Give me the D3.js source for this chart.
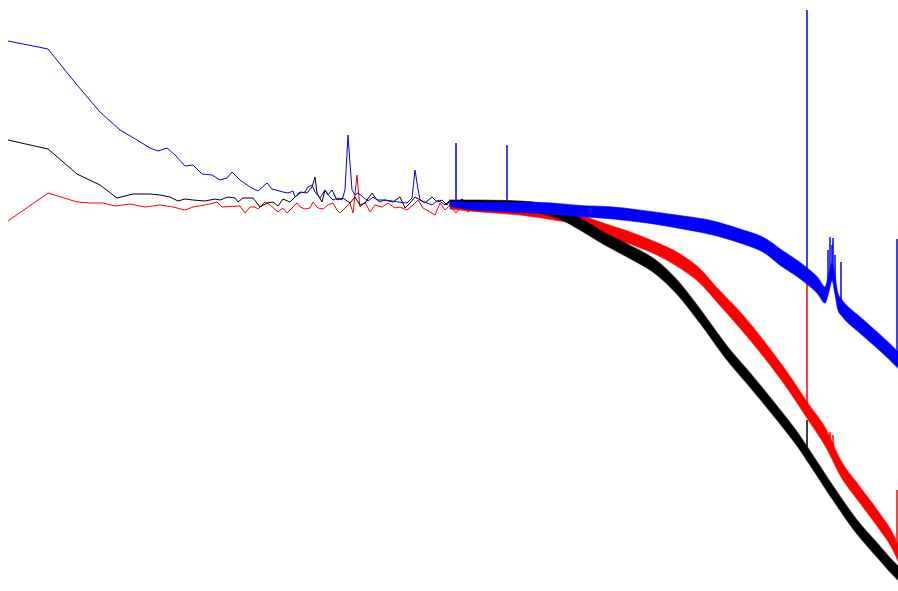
<!DOCTYPE html>
<html>
<head>
<meta charset="utf-8">
<script src="https://cdn.jsdelivr.net/npm/d3@7/dist/d3.min.js"></script>
<style>
  html, body { margin: 0; padding: 0; background: #fff; }
  svg { display: block; }
</style>
</head>
<body>
<svg id="chart"></svg>
<script>
// x = log10 frequency, y = level in dB

// low-frequency part, drawn as plain lines [logf, dB]
var blueLow = [[0,-8.2],[0.2,-9.8],[0.345,-17],[0.46,-22.4],[0.56,-26],[0.645,-28],[0.71,-29.6],[0.75,-30.2],[0.795,-29.6],[0.835,-31],[0.885,-33.2],[0.925,-33],[0.97,-34.8],[1.02,-35],[1.06,-36],[1.095,-35.6],[1.12,-34.4],[1.16,-36],[1.21,-37.4],[1.25,-38.2],[1.295,-36.6],[1.32,-37.8],[1.375,-38.4],[1.40,-38.6],[1.425,-38.2],[1.435,-39.4],[1.46,-38.6],[1.485,-38.4],[1.50,-37.4],[1.52,-37],[1.535,-38.4],[1.56,-39.6],[1.585,-38],[1.61,-39.4],[1.625,-40],[1.65,-39.6],[1.67,-40],[1.685,-38],[1.70,-27],[1.705,-30],[1.72,-38],[1.735,-39],[1.75,-38.6],[1.775,-39.4],[1.80,-40.2],[1.825,-39.4],[1.86,-40.4],[1.885,-40],[1.92,-40.2],[1.95,-40.4],[1.995,-40.6],[2.02,-39.6],[2.035,-34],[2.045,-36.6],[2.06,-40],[2.095,-40.6],[2.12,-41],[2.15,-40],[2.185,-41],[2.21,-40],[2.24,-41.4],[2.27,-40.2],[2.30,-41.6],[2.33,-40.4]];

var blackLow = [[0,-28],[0.2,-29.8],[0.345,-34.8],[0.46,-37],[0.545,-39.6],[0.625,-38.8],[0.71,-38.8],[0.76,-39],[0.81,-39.4],[0.85,-40.2],[0.885,-39.8],[0.925,-40],[0.985,-40.2],[1.035,-39.8],[1.06,-40],[1.10,-39.4],[1.135,-39.6],[1.15,-40.4],[1.175,-39.6],[1.225,-39.6],[1.26,-41.4],[1.295,-40.6],[1.325,-40.4],[1.35,-41.2],[1.375,-39.8],[1.41,-40.4],[1.435,-39.4],[1.46,-38.4],[1.495,-38.6],[1.52,-37.4],[1.535,-35.4],[1.545,-38.6],[1.57,-40.4],[1.585,-38],[1.60,-39],[1.62,-38],[1.645,-40],[1.675,-39.6],[1.71,-40.6],[1.735,-39.4],[1.76,-41],[1.785,-40.6],[1.82,-38.6],[1.845,-40],[1.885,-40],[1.925,-40.4],[1.96,-39.4],[1.985,-41.6],[2.01,-40.6],[2.035,-39.4],[2.06,-40],[2.085,-40.6],[2.12,-39.4],[2.145,-40.4],[2.17,-40],[2.195,-41],[2.21,-40],[2.24,-40.8],[2.27,-39.8],[2.30,-41],[2.33,-40.2]];

var redLow = [[0,-44.2],[0.2,-38.6],[0.345,-40.4],[0.41,-40.6],[0.475,-40.6],[0.535,-41.2],[0.61,-40.8],[0.685,-41.4],[0.76,-41],[0.825,-41.4],[0.885,-42],[0.925,-41.4],[1.01,-40.8],[1.045,-40.4],[1.07,-41.4],[1.16,-41.2],[1.185,-42.6],[1.21,-41.4],[1.235,-41.4],[1.25,-41.8],[1.285,-40.4],[1.31,-41],[1.35,-42.4],[1.375,-41.6],[1.395,-42.6],[1.425,-41.4],[1.445,-40.6],[1.46,-41.4],[1.485,-41.8],[1.51,-41.6],[1.525,-40.4],[1.55,-41.6],[1.575,-41.8],[1.60,-41],[1.625,-40.6],[1.645,-42],[1.66,-42.6],[1.685,-41.6],[1.71,-40.6],[1.725,-42.6],[1.745,-35],[1.75,-37.4],[1.76,-41.4],[1.785,-40.4],[1.81,-42.4],[1.835,-41],[1.87,-41.4],[1.90,-40.6],[1.935,-41.6],[1.96,-41.4],[1.995,-42],[2.025,-41],[2.05,-40],[2.075,-41.6],[2.11,-42.4],[2.135,-43],[2.16,-40.6],[2.185,-42],[2.21,-41],[2.24,-42.6],[2.27,-41.2],[2.30,-42.4],[2.33,-41.4]];

// high-frequency part, noisy band [logf, mean dB, half spread dB]
var blueBand = [[2.21,-40.8,0.5],[2.31,-41.2,0.7],[2.46,-41.4,0.9],[2.66,-41.6,1.1],[2.86,-42.2,1.1],[3.025,-42.6,1.2],[3.195,-43.4,1.2],[3.36,-44.4,1.3],[3.525,-45.6,1.4],[3.66,-47.2,1.4],[3.795,-49.4,1.5],[3.86,-51.4,1.6],[3.935,-53.4,1.6],[3.995,-55.2,1.6],[4.05,-57.2,1.6],[4.085,-59,1.6],[4.105,-56.4,1.8],[4.12,-54.4,1.8],[4.135,-57,1.8],[4.15,-60.4,1.6],[4.17,-61.6,1.6],[4.26,-65,1.6],[4.345,-68,1.6],[4.41,-70.4,1.6],[4.45,-72,1.6]];

var blackBand = [[2.21,-40.4,0.4],[2.36,-40.6,0.6],[2.56,-41,0.8],[2.66,-41.6,1],[2.76,-42.8,1],[2.86,-44.8,1.2],[2.985,-47.8,1.2],[3.11,-50.4,1.3],[3.245,-53.6,1.4],[3.345,-57.4,1.4],[3.46,-63.2,1.4],[3.595,-70.6,1.4],[3.71,-76,1.4],[3.845,-82.6,1.4],[3.96,-88.6,1.4],[4.01,-91.6,1.4],[4.125,-98.6,1.4],[4.245,-105.4,1.4],[4.345,-110,1.4],[4.425,-113.6,1.4],[4.45,-114.6,1.4]];

var redBand = [[2.21,-41.4,0.4],[2.36,-41.8,0.6],[2.56,-42.2,0.8],[2.76,-43.2,1],[2.86,-44,1],[2.96,-45.6,1.2],[3.11,-47.6,1.2],[3.225,-49.4,1.2],[3.36,-52.2,1.4],[3.46,-55.2,1.4],[3.545,-59,1.4],[3.66,-64,1.6],[3.795,-70.6,1.6],[3.895,-76,1.6],[3.995,-82,1.6],[4.095,-88,1.8],[4.16,-93.4,1.6],[4.26,-99,1.6],[4.36,-104.4,1.6],[4.425,-108.4,1.6],[4.45,-110.6,1.6]];

// tones [logf, peak dB, floor dB]
var blueSpikes = [[2.24,-28.6,-41.2],[2.495,-29,-41.4],[3.995,-2,-55.2],[4.10,-50,-57.6],[4.11,-47.4,-56],[4.12,-49,-54.4],[4.125,-47.6,-55],[4.135,-51,-57],[4.165,-52.4,-61],[4.445,-47.8,-71.6]];
var blackSpikes = [[3.995,-84,-89.4]];
var redSpikes = [[3.995,-54,-82],[4.11,-86.4,-89],[4.125,-87,-90],[4.445,-98,-110]];

var svgWidth = 898, svgHeight = 591;

var svg = d3.select('#chart')
	.attr("width", svgWidth)
	.attr("height", svgHeight);

var x = d3.scaleLinear().domain([0, 4.445]).range([8, 897]);
var y = d3.scaleLinear().domain([0, -118.2]).range([0, 591]);

var line = d3.line()
	.x(function(d) { return x(d[0]); })
	.y(function(d) { return y(d[1]); });

var area = d3.area()
	.curve(d3.curveMonotoneX)
	.x(function(d) { return x(d[0]); })
	.y0(function(d) { return y(d[1] - d[2]); })
	.y1(function(d) { return y(d[1] + d[2]); });

var series = [
	{color: "#ff0000", low: redLow, band: redBand, spikes: redSpikes},
	{color: "#000000", low: blackLow, band: blackBand, spikes: blackSpikes},
	{color: "#0000ff", low: blueLow, band: blueBand, spikes: blueSpikes}
];

series.forEach(function(s) {
	var g = svg.append("g");

	g.append("path")
		.datum(s.band)
		.attr("d", area)
		.attr("fill", s.color)
		.attr("stroke", s.color)
		.attr("stroke-width", 1.2)
		.attr("stroke-opacity", 0.6);

	g.append("path")
		.datum(s.low)
		.attr("d", line)
		.attr("fill", "none")
		.attr("stroke", s.color)
		.attr("stroke-width", 1);

	g.selectAll("line")
		.data(s.spikes)
		.enter()
		.append("line")
		.attr("x1", function(d) { return x(d[0]); })
		.attr("x2", function(d) { return x(d[0]); })
		.attr("y1", function(d) { return y(d[1]); })
		.attr("y2", function(d) { return y(d[2]); })
		.attr("stroke", s.color)
		.attr("stroke-width", 1.5);
});
</script>
</body>
</html>
